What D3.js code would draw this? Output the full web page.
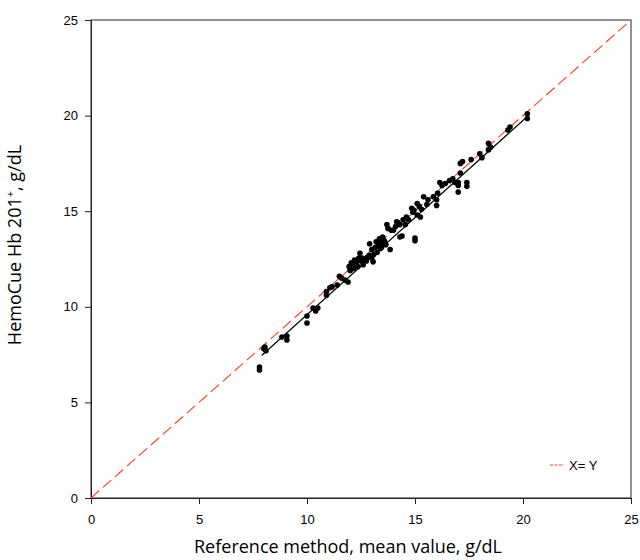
<!DOCTYPE html>
<meta charset="utf-8">
<html>
  <head>
    <title>HemoCue vs reference</title>
    <style>
      body { margin: 0; background: white; }
      .tick text { font-family: "Liberation Sans", Arial, sans-serif; font-size: 13px; fill: #000; }
      .title { font-family: "Open Sans", sans-serif; font-size: 18px; fill: #000; }
      .dot { fill: #000; }
      .fit { fill: none; stroke: #000; stroke-width: 1.2px; }
      .xy { fill: none; stroke: #f2401f; stroke-width: 1.1px; stroke-dasharray: 11,5; }
    </style>
  </head>
  <body>
    <script src="https://d3js.org/d3.v7.min.js"></script>
    <script>

      // reference method (x) and HemoCue (y), g/dL
      var refX = [7.8, 7.8, 8.0, 8.05, 8.1, 8.84, 9.07, 9.07, 10.0, 10.0, 10.28, 10.4, 10.5,
        10.9, 10.9, 11.06, 11.16, 11.4, 11.6, 11.76, 11.9, 12.1, 12.2, 12.3, 12.45, 12.55,
        12.6, 12.8, 12.9, 13.06, 13.0, 13.15, 13.25, 13.4, 13.5, 13.4, 13.6, 13.85, 13.7,
        13.75, 14.3, 14.3, 14.2, 14.6, 14.7, 13.9, 14.15, 14.45, 14.4, 14.85, 14.9, 15.1,
        15.1, 15.25, 15.0, 15.0, 15.4, 15.6, 16.0, 16.0, 16.05, 16.15, 16.25, 16.6, 16.85,
        17.0, 17.0, 17.4, 17.4, 17.1, 17.2, 17.1, 17.6, 18.1, 18.0, 18.4, 18.4, 18.5, 19.4,
        19.3, 20.2, 20.2, 17.0, 12.0, 12.35, 12.7, 13.1, 13.3, 12.5, 12.9, 13.55, 13.2,
        12.15, 11.95, 12.65, 13.0, 13.45, 14.0, 14.55, 15.3, 15.55, 15.85, 16.4, 16.75,
        12.4, 12.75, 13.35, 13.65, 14.1, 11.5, 12.05, 14.95, 15.2];
      var refY = [6.85, 6.7, 7.8, 7.9, 7.7, 8.42, 8.47, 8.26, 9.52, 9.15, 9.94, 9.78, 9.94,
        10.6, 10.8, 11.0, 11.04, 11.14, 11.5, 11.4, 11.3, 12.2, 12.45, 12.35, 12.8, 12.55,
        12.2, 12.6, 12.7, 12.35, 13.0, 13.1, 12.85, 13.3, 13.65, 13.05, 13.4, 13.0, 14.3,
        14.1, 14.3, 13.65, 14.4, 14.7, 14.55, 14.0, 14.45, 14.55, 13.7, 15.15, 14.95, 15.4,
        14.8, 14.7, 13.6, 13.45, 15.75, 15.6, 15.6, 15.3, 15.95, 16.5, 16.35, 16.6, 16.5,
        16.0, 16.5, 16.5, 16.3, 17.0, 17.6, 17.5, 17.7, 17.8, 18.0, 18.55, 18.2, 18.35, 19.4,
        19.25, 19.85, 20.1, 16.35, 11.9, 12.1, 12.5, 12.75, 13.2, 12.4, 13.3, 13.5, 13.4,
        12.0, 12.1, 12.45, 12.55, 13.1, 14.0, 14.3, 15.1, 15.35, 15.75, 16.45, 16.7,
        12.55, 12.4, 13.55, 13.25, 14.2, 11.6, 12.3, 15.05, 15.25];

      var fitX = [7.9, 20.2];
      var fitY = [7.45, 19.95];
      var idX = [0, 25];
      var idY = [0, 25];
      var ticks = [0, 5, 10, 15, 20, 25];

      var margin = {top: 20, right: 10, bottom: 62, left: 91},
          width = 540, height = 478;

      var x = d3.scaleLinear().domain([0, 25]).range([0, width]);
      var y = d3.scaleLinear().domain([0, 25]).range([height, 0]);

      var svg = d3.select("body").append("svg")
          .attr("width", 640)
          .attr("height", 560)
        .append("g")
          .attr("transform", "translate(" + margin.left + "," + margin.top + ")");

      // frame
      svg.append("rect")
          .attr("width", width).attr("height", height)
          .attr("fill", "none").attr("stroke", "#222").attr("stroke-width", 1);

      svg.append("g")
          .attr("transform", "translate(0," + height + ")")
          .call(d3.axisBottom(x).tickValues(ticks).tickSize(6).tickPadding(11));
      svg.append("g")
          .call(d3.axisLeft(y).tickValues(ticks).tickSize(6).tickPadding(7));
      svg.selectAll(".domain").attr("stroke", "#222");
      svg.selectAll(".tick line").attr("stroke", "#222");

      var line = d3.line().x(function(d) { return x(d[0]); }).y(function(d) { return y(d[1]); });

      // X = Y line
      svg.append("path")
          .datum(d3.zip(idX, idY))
          .attr("class", "xy")
          .attr("d", line);

      // regression line
      svg.append("path")
          .datum(d3.zip(fitX, fitY))
          .attr("class", "fit")
          .attr("d", line);

      svg.selectAll(".dot")
          .data(d3.zip(refX, refY))
        .enter().append("circle")
          .attr("class", "dot")
          .attr("r", 2.8)
          .attr("cx", function(d) { return x(d[0]); })
          .attr("cy", function(d) { return y(d[1]); });

      // legend
      var lg = svg.append("g").attr("transform", "translate(" + (width - 81) + "," + (height - 33) + ")");
      lg.append("line").attr("class", "xy").attr("x1", 0).attr("x2", 14).attr("y1", 0).attr("y2", 0)
          .style("stroke-dasharray", "3,1.5");
      lg.append("text").attr("x", 19).attr("y", 4.5)
          .style("font-family", "Liberation Sans, Arial, sans-serif").style("font-size", "13px")
          .text("X= Y");

      // titles
      svg.append("text").attr("class", "title")
          .attr("x", 257).attr("y", height + 55)
          .attr("text-anchor", "middle")
          .text("Reference method, mean value, g/dL");

      var yt = svg.append("text").attr("class", "title")
          .attr("transform", "translate(-70," + 225 + ") rotate(-90)")
          .attr("text-anchor", "middle");
      yt.append("tspan").text("HemoCue Hb 201");
      yt.append("tspan").attr("dy", -7).style("font-size", "11px").text("+");
      yt.append("tspan").attr("dy", 7).text(", g/dL");

    </script>
  </body>
</html>
